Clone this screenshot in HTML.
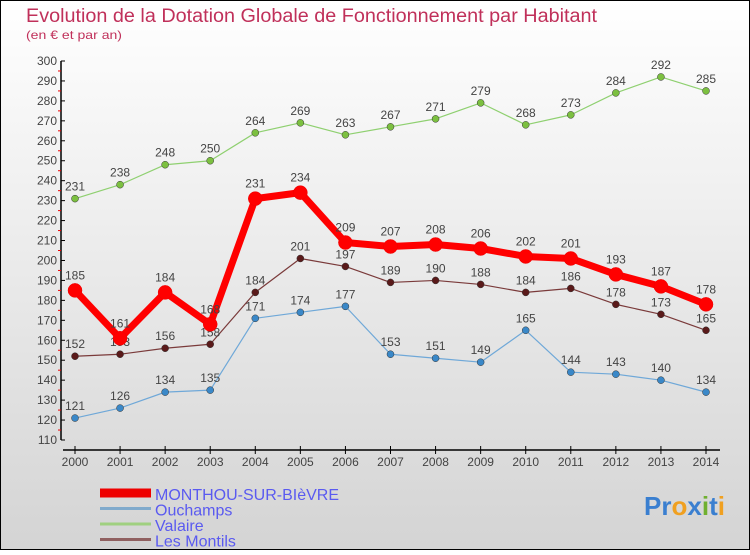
<!DOCTYPE html>
<html><head><meta charset="utf-8"><style>
body{margin:0}
#c{width:750px;height:550px;position:relative;font-family:"Liberation Sans",sans-serif}
svg text{font-family:"Liberation Sans",sans-serif}
</style></head><body>
<div id="c">
<svg id="s" width="750" height="550" xmlns="http://www.w3.org/2000/svg">
<defs><linearGradient id="bg" x1="0" y1="0" x2="0" y2="1"><stop offset="0" stop-color="#ffffff"/><stop offset="1" stop-color="#d4d4d4"/></linearGradient></defs>
<rect x="0.5" y="0.5" width="749" height="549" fill="url(#bg)" stroke="#000"/>
<text x="26" y="22" font-size="19" fill="#c0305a" textLength="571" lengthAdjust="spacingAndGlyphs">Evolution de la Dotation Globale de Fonctionnement par Habitant</text>
<text x="26" y="39" font-size="12" fill="#c0305a" textLength="96" lengthAdjust="spacingAndGlyphs">(en € et par an)</text>
<g id="axes"></g><g id="series"></g>
<text x="644" y="515" font-size="26" font-weight="bold"><tspan fill="#3a7fd0">Pr</tspan><tspan fill="#f0a020">o</tspan><tspan fill="#3a7fd0">x</tspan><tspan fill="#70b030">i</tspan><tspan fill="#3a7fd0">t</tspan><tspan fill="#f0a020">i</tspan></text>
</svg></div>
<script>
const years=[2000,2001,2002,2003,2004,2005,2006,2007,2008,2009,2010,2011,2012,2013,2014];
const monthou=[185,161,184,168,231,234,209,207,208,206,202,201,193,187,178];
const ouchamps=[121,126,134,135,171,174,177,153,151,149,165,144,143,140,134];
const valaire=[231,238,248,250,264,269,263,267,271,279,268,273,284,292,285];
const montils=[152,153,156,158,184,201,197,189,190,188,184,186,178,173,165];
const yTicks=[110,120,130,140,150,160,170,180,190,200,210,220,230,240,250,260,270,280,290,300];
const names=["MONTHOU-SUR-BIèVRE","Ouchamps","Valaire","Les Montils"];
const NS="http://www.w3.org/2000/svg";
const x=i=>75+i*(706-75)/14;
const y=v=>440-(v-110)*(440-61)/190;
function mk(p,t,a){const e=document.createElementNS(NS,t);for(const k in a)e.setAttribute(k,a[k]);p.appendChild(e);return e;}
const ax=document.getElementById('axes'),sr=document.getElementById('series');
let l=mk(ax,'line',{x1:61,y1:61,x2:61,y2:440,stroke:'#000','stroke-width':1.5});

l=mk(ax,'line',{x1:63,y1:450,x2:720,y2:450,stroke:'#000','stroke-width':1.5});

yTicks.forEach(v=>{mk(ax,'line',{x1:61,y1:y(v),x2:65,y2:y(v),stroke:'#000'});
 if(v<300)mk(ax,'line',{x1:58,y1:y(v+5),x2:61,y2:y(v+5),stroke:'#e00'});
 const t=mk(ax,'text',{x:57,y:y(v)+4,'font-size':12,fill:'#444','text-anchor':'end'});t.textContent=v;
 });
years.forEach((yr,i)=>{mk(ax,'line',{x1:x(i),y1:446,x2:x(i),y2:454,stroke:'#000'});
 const t=mk(ax,'text',{x:x(i),y:466,'font-size':12,fill:'#444','text-anchor':'middle'});t.textContent=yr;
 });
function draw(data,col,dot,w,r,nm,lblOff){
 const g=mk(sr,'g',{});
 const pts=data.map((v,i)=>x(i)+','+y(v)).join(' ');
 const pl=mk(g,'polyline',{points:pts,fill:'none',stroke:col,'stroke-width':w,'stroke-linejoin':'round'});
 
 data.forEach((v,i)=>{const c=mk(g,'circle',{cx:x(i),cy:y(v),r:r,fill:dot,stroke:col==='#ff0000'?'#e00':'#333','stroke-width':0.5});
  
  const t=mk(g,'text',{x:x(i),y:y(v)-lblOff,'font-size':12,fill:'#444','text-anchor':'middle'});t.textContent=v;
  });
}
draw(valaire,'#8fd070','#7cc040',1.2,3.5,'valaire',8);
draw(montils,'#7a3a3a','#5a1a1a',1.2,3.5,'les-montils',8);
draw(ouchamps,'#6fa8d8','#3a88c8',1.2,3.5,'ouchamps',8);
draw(monthou,'#ff0000','#ff0000',7,7,'monthou',11);
const cols=['#ee0000','#80aacc','#a0d080','#906060'],ws=[9,3,3,3];
names.forEach((n,i)=>{const yy=493+i*15.5;
 const g=mk(sr,'g',{});
 mk(g,'line',{x1:100,y1:yy,x2:151,y2:yy,stroke:cols[i],'stroke-width':ws[i]});
 const t=mk(g,'text',{x:155,y:yy+7,'font-size':16,fill:'#5a5af0'});t.textContent=n;});
</script></body></html>
